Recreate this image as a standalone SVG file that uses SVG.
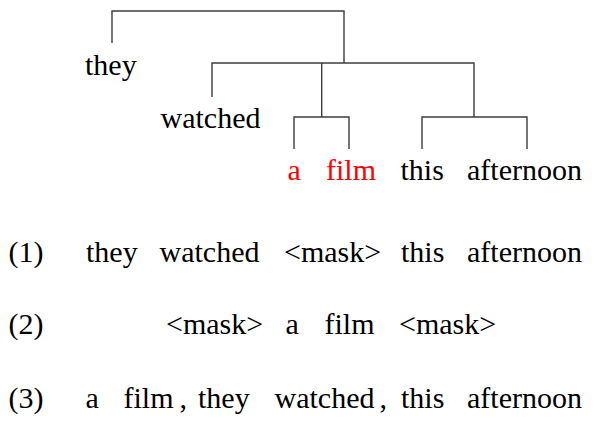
<svg xmlns="http://www.w3.org/2000/svg" width="599" height="427" viewBox="0 0 599 427">
<style>
  .t { font-family: 'Liberation Serif', Tinos, 'Times New Roman', Times, 'DejaVu Serif', serif; font-size: 30px; fill: #000; }
  .red { fill: #ff0000; }
  .edge { fill: none; stroke: #3c3c3c; stroke-width: 1.4; }
</style>
<rect width="599" height="427" fill="#ffffff"/>
<g id="connectors">
  <path class="edge" d="M112,43 V11 H344 V63"/>
  <path class="edge" d="M212,97 V63 H474 V117"/>
  <path class="edge" d="M321.7,63 V117"/>
  <path class="edge" d="M294,149 V117 H349 V149"/>
  <path class="edge" d="M422,149 V117 H527 V149"/>
</g>
<g font-family="Liberation Serif, serif">
<g id="node-they"><text class="t" x="85" y="75">they</text></g>
<g id="node-watched"><text class="t" x="160.5" y="128">watched</text></g>
<g id="node-a"><text class="t red" x="287.5" y="180">a</text></g>
<g id="node-film"><text class="t red" x="326" y="180">film</text></g>
<g id="node-this"><text class="t" x="400.5" y="180">this</text></g>
<g id="node-afternoon"><text class="t" x="467" y="180">afternoon</text></g>
<g id="row1">
  <text class="t" x="8.5" y="262">(1)</text>
  <text class="t" x="86" y="262">they</text>
  <text class="t" x="159.5" y="262">watched</text>
  <text class="t" x="284" y="262">&lt;mask&gt;</text>
  <text class="t" x="401" y="262">this</text>
  <text class="t" x="467" y="262">afternoon</text>
</g>
<g id="row2">
  <text class="t" x="8.5" y="334">(2)</text>
  <text class="t" x="166" y="334">&lt;mask&gt;</text>
  <text class="t" x="285.5" y="334">a</text>
  <text class="t" x="324.5" y="334">film</text>
  <text class="t" x="399" y="334">&lt;mask&gt;</text>
</g>
<g id="row3">
  <text class="t" x="8.5" y="408">(3)</text>
  <text class="t" x="85.5" y="408">a</text>
  <text class="t" x="123.5" y="408">film</text>
  <text class="t" x="179.5" y="408">,</text>
  <text class="t" x="198" y="408">they</text>
  <text class="t" x="274.5" y="408">watched</text>
  <text class="t" x="379.5" y="408">,</text>
  <text class="t" x="401" y="408">this</text>
  <text class="t" x="467" y="408">afternoon</text>
</g>
</g>
</svg>
